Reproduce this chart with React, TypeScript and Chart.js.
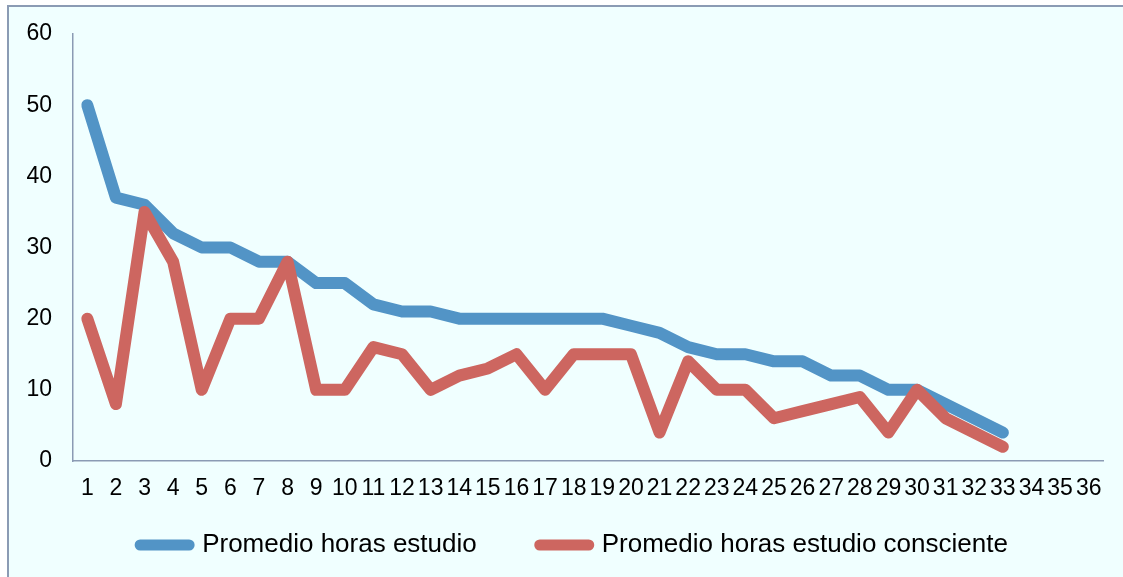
import React, { useEffect, useRef } from "react";
import { Chart, registerables } from "chart.js";

Chart.register(...registerables);

const categories = [
  "1", "2", "3", "4", "5", "6", "7", "8", "9", "10", "11", "12",
  "13", "14", "15", "16", "17", "18", "19", "20", "21", "22", "23", "24",
  "25", "26", "27", "28", "29", "30", "31", "32", "33", "34", "35", "36",
];

const promedioHorasEstudio = [
  50, 37, 36, 32, 30, 30, 28, 28, 25, 25,
  22, 21, 21, 20, 20, 20, 20, 20, 20, 19,
  18, 16, 15, 15, 14, 14, 12, 12, 10, 10,
  8, 6, 4,
];

const promedioHorasConsciente = [
  20, 8, 35, 28, 10, 20, 20, 28, 10, 10,
  16, 15, 10, 12, 13, 15, 10, 15, 15, 15,
  4, 14, 10, 10, 6, 7, 8, 9, 4, 10,
  6, 4, 2,
];

const seriesNames = ["Promedio horas estudio", "Promedio horas estudio consciente"];
const seriesColors = ["#5294C6", "#CD6660"];

const yMin = 0;
const yMax = 60;
const yStep = 10;

const FONT = '"Liberation Sans", Arial, sans-serif';
const AXIS_COLOR = "#8B9BB4";
const LINE_WIDTH = 12;
const LEGEND_LINE_WIDTH = 11;

// legend placement (canvas px): centre x and top of the legend box
const LEGEND_CENTER_X = 565;
const LEGEND_TOP = 462;

const legendPlacement = {
  id: "legendPlacement",
  afterLayout(chart: any) {
    const lg = chart.legend;
    if (!lg) return;
    const dx = LEGEND_CENTER_X - (lg.left + lg.right) / 2;
    lg.left += dx;
    lg.right += dx;
    lg.top = LEGEND_TOP;
    lg.bottom = chart.height;
  },
};

export default function App() {
  const canvasRef = useRef<HTMLCanvasElement | null>(null);

  useEffect(() => {
    if (!canvasRef.current) return;
    const chart = new Chart(canvasRef.current, {
      type: "line",
      data: {
        labels: categories,
        datasets: [
          {
            label: seriesNames[0],
            data: promedioHorasEstudio,
            borderColor: seriesColors[0],
            backgroundColor: seriesColors[0],
            borderWidth: LINE_WIDTH,
            borderCapStyle: "round",
            borderJoinStyle: "round",
            pointRadius: 0,
            tension: 0,
            order: 1,
          },
          {
            label: seriesNames[1],
            data: promedioHorasConsciente,
            borderColor: seriesColors[1],
            backgroundColor: seriesColors[1],
            borderWidth: LINE_WIDTH,
            borderCapStyle: "round",
            borderJoinStyle: "round",
            pointRadius: 0,
            tension: 0,
            order: 0,
          },
        ],
      },
      options: {
        responsive: false,
        animation: false,
        events: [],
        layout: { padding: { left: 16, right: 20, top: 27, bottom: 54 } },
        scales: {
          x: {
            offset: true,
            grid: { display: false, drawTicks: false, tickLength: 0 },
            border: { display: true, color: AXIS_COLOR, width: 1.5 },
            ticks: {
              autoSkip: false,
              maxRotation: 0,
              minRotation: 0,
              padding: 14,
              color: "#000000",
              font: { family: FONT, size: 23 },
            },
            afterFit: (scale: any) => {
              scale.height = 42;
            },
          },
          y: {
            min: yMin,
            max: yMax,
            grid: { display: false, drawTicks: true, tickLength: 14 },
            border: { display: true, color: AXIS_COLOR, width: 1.5 },
            ticks: {
              stepSize: yStep,
              padding: 7,
              color: "#000000",
              font: { family: FONT, size: 23 },
            },
            afterFit: (scale: any) => {
              scale.width = 48;
            },
          },
        },
        plugins: {
          tooltip: { enabled: false },
          title: { display: false },
          legend: {
            display: true,
            position: "bottom",
            align: "center",
            maxHeight: 20,
            labels: {
              usePointStyle: true,
              pointStyle: "line",
              pointStyleWidth: 49,
              padding: 63,
              color: "#000000",
              font: { family: FONT, size: 26 },
              sort: (a: any, b: any) => a.datasetIndex - b.datasetIndex,
              generateLabels: (c: any) =>
                (Chart.defaults.plugins.legend.labels.generateLabels as any)(c).map((l: any) => ({
                  ...l,
                  lineWidth: LEGEND_LINE_WIDTH,
                  lineCap: "round",
                  strokeStyle: seriesColors[l.datasetIndex],
                  fillStyle: seriesColors[l.datasetIndex],
                  pointStyle: "line",
                })),
            },
          },
        },
      },
      plugins: [legendPlacement],
    });
    return () => chart.destroy();
  }, []);

  return (
    <div
      style={{
        position: "fixed",
        left: 7,
        top: 5,
        right: 0,
        bottom: 0,
        borderLeft: `2px solid ${AXIS_COLOR}`,
        borderTop: `2px solid ${AXIS_COLOR}`,
        background: "#F0FFFF",
        overflow: "hidden",
      }}
    >
      <canvas ref={canvasRef} width={1114} height={570} style={{ display: "block" }} />
    </div>
  );
}
